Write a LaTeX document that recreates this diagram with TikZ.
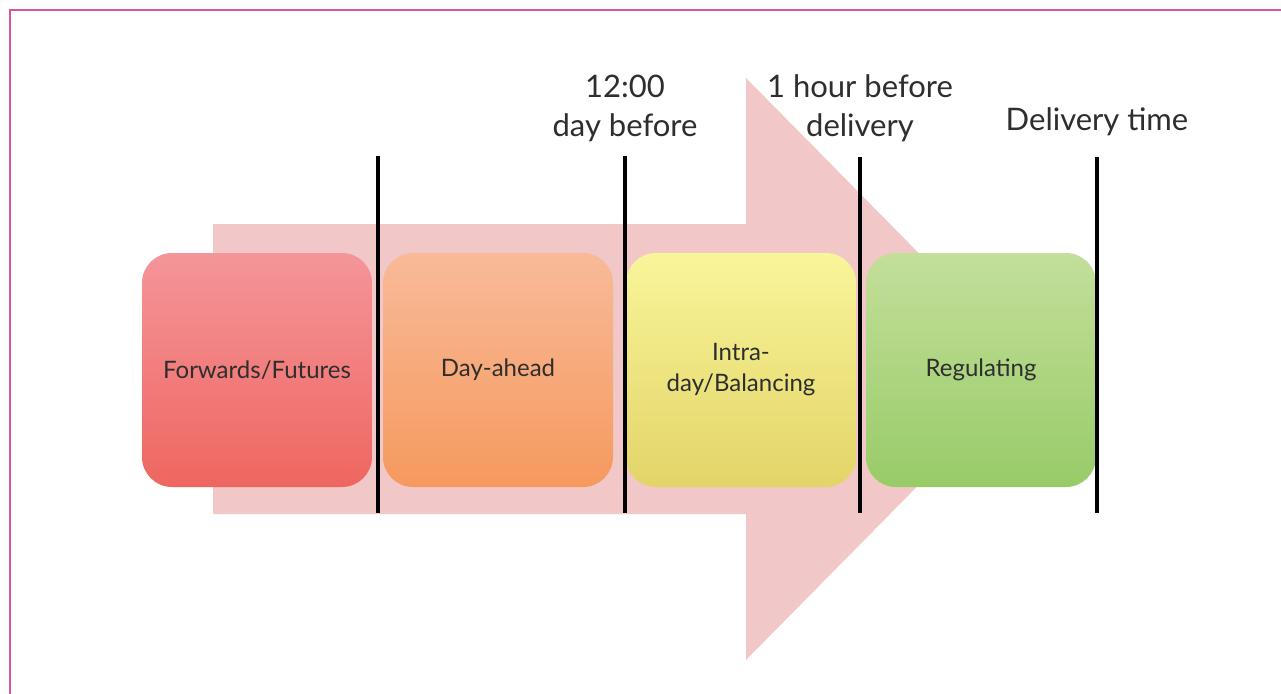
\documentclass[tikz,border=0pt]{standalone}
\usepackage{fontspec}
\setmainfont{Lato}
\definecolor{framec}{HTML}{D4579A}
\definecolor{arrowc}{HTML}{F2C7C7}
\definecolor{txtc}{HTML}{2E2E2E}
\definecolor{fwTop}{HTML}{F4959A}
\definecolor{fwBot}{HTML}{EF6660}
\definecolor{daTop}{HTML}{F8BA98}
\definecolor{daBot}{HTML}{F6995E}
\definecolor{idTop}{HTML}{F9F59A}
\definecolor{idBot}{HTML}{E2D468}
\definecolor{rgTop}{HTML}{C3DF9A}
\definecolor{rgBot}{HTML}{98CB68}
\tikzset{
  phase/.style={minimum width=230pt, minimum height=234pt, rounded corners=30pt,
    inner sep=0pt, align=center, text=txtc,
    font=\fontsize{24}{31}\selectfont},
  marker/.style={line width=3.5pt, black},
  timelabel/.style={inner sep=0pt, align=center, text=txtc,
    font=\fontsize{31}{39}\selectfont}
}
\begin{document}
\begin{tikzpicture}[x=1pt,y=-1pt]
\useasboundingbox (0,0) rectangle (1281,693);
\fill[white] (0,0) rectangle (1281,693);
% frame
\draw[framec, line width=2pt] (10,700) -- (10,10) -- (1290,10);
% big arrow
\fill[arrowc] (213,224) -- (746,224) -- (746,78) -- (1033,369) -- (746,660) -- (746,514) -- (213,514) -- cycle;
% phase boxes
\node[phase, top color=fwTop, bottom color=fwBot] (fw) at (257,370) {Forwards/Futures};
\node[phase, top color=daTop, bottom color=daBot] (da) at (498,370) {Day-ahead};
\node[phase, top color=idTop, bottom color=idBot] (id) at (741,370) {Intra-\\day/Balancing};
\node[phase, top color=rgTop, bottom color=rgBot] (rg) at (981,370) {Regulating};
% marker end points
\coordinate (m1t) at (378,156); \coordinate (m1b) at (378,513);
\coordinate (m2t) at (625,156); \coordinate (m2b) at (625,513);
\coordinate (m3t) at (860,157); \coordinate (m3b) at (860,513);
\coordinate (m4t) at (1097,157); \coordinate (m4b) at (1097,513);
\draw[marker] (m1t) -- (m1b);
\draw[marker] (m2t) -- (m2b);
\draw[marker] (m3t) -- (m3b);
\draw[marker] (m4t) -- (m4b);
% labels
\node[timelabel] (l2) at (625,108) {12:00\\day before};
\node[timelabel] (l3) at (860,108) {1 hour before\\delivery};
\node[timelabel] (l4) at (1097,122) {Delivery time};
\end{tikzpicture}
\end{document}
